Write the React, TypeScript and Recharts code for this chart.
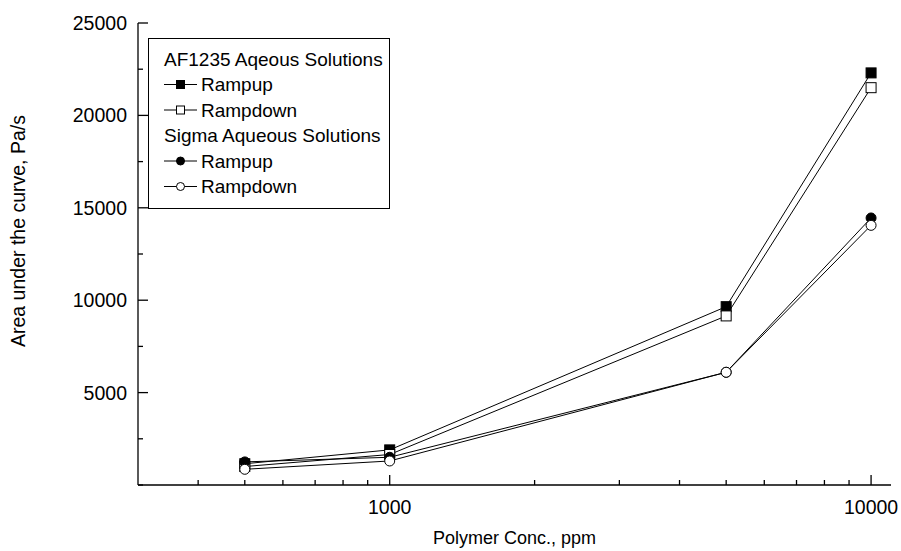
import React from 'react';
import { LineChart, Line, XAxis, YAxis, Legend } from 'recharts';

// Polymer concentration (ppm) and area under the curve (Pa/s) per series
const concentrations = [500, 1000, 5000, 10000];
const af1235Rampup = [1150, 1900, 9650, 22300];
const af1235Rampdown = [1000, 1650, 9150, 21500];
const sigmaRampup = [1250, 1500, 6100, 14450];
const sigmaRampdown = [850, 1300, 6100, 14050];

const xTicks = [400, 500, 600, 700, 800, 900, 1000, 2000, 3000, 4000, 5000, 6000, 7000, 8000, 9000, 10000];
const xLabelTicks = [1000, 10000];
const yTicks = [0, 2500, 5000, 7500, 10000, 12500, 15000, 17500, 20000, 22500, 25000];
const yLabelTicks = [5000, 10000, 15000, 20000, 25000];

const FONT = '"Liberation Sans", Arial, sans-serif';

type MarkerKind = 'filledSquare' | 'openSquare' | 'filledCircle' | 'openCircle';

const data = concentrations.map((conc, i) => ({
  conc,
  afUp: af1235Rampup[i],
  afDown: af1235Rampdown[i],
  sigmaUp: sigmaRampup[i],
  sigmaDown: sigmaRampdown[i],
}));

const Marker = ({ cx, cy, kind, size }: { cx: number; cy: number; kind: MarkerKind; size: number }) => {
  const fill = kind.startsWith('filled') ? '#000' : '#fff';
  if (kind.endsWith('Square')) {
    return (
      <rect x={cx - size / 2} y={cy - size / 2} width={size} height={size} fill={fill} stroke="#000" strokeWidth={1} />
    );
  }
  return <circle cx={cx} cy={cy} r={size / 2} fill={fill} stroke="#000" strokeWidth={1} />;
};

const makeDot = (kind: MarkerKind) => (props: any) => {
  const { cx, cy, index } = props;
  if (cx == null || cy == null) return <g key={`dot-${kind}-${index}`} />;
  return (
    <g key={`dot-${kind}-${index}`}>
      <Marker cx={cx} cy={cy} kind={kind} size={10} />
    </g>
  );
};

// Inward ticks on the log axis, labels only on the decades
const XTick = (props: any) => {
  const { x, y, payload } = props;
  const major = xLabelTicks.includes(payload.value);
  return (
    <g>
      <line x1={x} x2={x} y1={y} y2={y - (major ? 10 : 5)} stroke="#000" strokeWidth={1.3} />
      {major && (
        <text x={x} y={y + 22} textAnchor="middle" dominantBaseline="central" fontSize={19.5} fontFamily={FONT} fill="#000">
          {payload.value}
        </text>
      )}
    </g>
  );
};

const YTick = (props: any) => {
  const { x, y, payload } = props;
  const major = yLabelTicks.includes(payload.value);
  return (
    <g>
      <line x1={x} x2={x + (major ? 10 : 5)} y1={y} y2={y} stroke="#000" strokeWidth={1.3} />
      {major && (
        <text x={x - 11} y={y} textAnchor="end" dominantBaseline="central" fontSize={19.5} fontFamily={FONT} fill="#000">
          {payload.value}
        </text>
      )}
    </g>
  );
};

const YTitle = () => {
  const cx = 18;
  const cy = 231;
  return (
    <text
      x={cx}
      y={cy}
      transform={`rotate(-90, ${cx}, ${cy})`}
      textAnchor="middle"
      dominantBaseline="central"
      fontSize={19.5}
      fontFamily={FONT}
      fill="#000"
    >
      Area under the curve, Pa/s
    </text>
  );
};

const legendRows: { label: string; kind?: MarkerKind }[] = [
  { label: 'AF1235 Aqeous Solutions' },
  { label: 'Rampup', kind: 'filledSquare' },
  { label: 'Rampdown', kind: 'openSquare' },
  { label: 'Sigma Aqueous Solutions' },
  { label: 'Rampup', kind: 'filledCircle' },
  { label: 'Rampdown', kind: 'openCircle' },
];

const LegendBox = () => (
  <svg width={242} height={171} style={{ display: 'block' }}>
    <rect x={0.5} y={0.5} width={241} height={170} fill="#fff" stroke="#000" strokeWidth={1} />
    {legendRows.map((row, i) => {
      const cy = 21 + i * 25.5;
      if (!row.kind) {
        return (
          <text key={i} x={16} y={cy} dominantBaseline="central" fontSize={19} fontFamily={FONT} fill="#000">
            {row.label}
          </text>
        );
      }
      return (
        <g key={i}>
          <line x1={16} x2={49} y1={cy} y2={cy} stroke="#000" strokeWidth={1} />
          <Marker cx={32.5} cy={cy} kind={row.kind} size={8} />
          <text x={53} y={cy} dominantBaseline="central" fontSize={19} fontFamily={FONT} fill="#000">
            {row.label}
          </text>
        </g>
      );
    })}
  </svg>
);

const App: React.FC = () => {
  return (
    <div style={{ position: 'absolute', left: 0, top: 0, width: 901, height: 551, background: '#fff' }}>
      <LineChart width={901} height={551} data={data} margin={{ top: 23, right: 10, left: 0, bottom: 0 }}>
        <XAxis
          dataKey="conc"
          type="number"
          scale="log"
          domain={[300, 11000]}
          allowDataOverflow
          ticks={xTicks}
          interval={0}
          tick={<XTick />}
          tickSize={0}
          tickMargin={0}
          tickLine={false}
          axisLine={{ stroke: '#000', strokeWidth: 1.3 }}
          height={66}
          label={{
            value: 'Polymer Conc., ppm',
            position: 'insideBottom',
            offset: 7,
            fontSize: 18,
            fontFamily: FONT,
            fill: '#000',
          }}
        />
        <XAxis xAxisId="top" orientation="top" dataKey="conc" type="number" scale="log" domain={[300, 11000]} allowDataOverflow tick={false} tickLine={false} axisLine={{ stroke: '#000', strokeWidth: 1.3 }} height={0} />
        <YAxis
          type="number"
          domain={[0, 25000]}
          ticks={yTicks}
          interval={0}
          tick={<YTick />}
          tickSize={0}
          tickMargin={0}
          tickLine={false}
          axisLine={{ stroke: '#000', strokeWidth: 1.3 }}
          width={138}
          label={<YTitle />}
        />
        <YAxis yAxisId="right" orientation="right" type="number" domain={[0, 25000]} tick={false} tickLine={false} axisLine={{ stroke: '#000', strokeWidth: 1.3 }} width={0} />
        <Legend
          layout="vertical"
          align="center"
          verticalAlign="middle"
          content={() => <LegendBox />}
          wrapperStyle={{ left: 148, top: 38, width: 242, height: 171 }}
        />
        <Line dataKey="afUp" stroke="#000" strokeWidth={1} dot={makeDot('filledSquare')} isAnimationActive={false} />
        <Line dataKey="afDown" stroke="#000" strokeWidth={1} dot={makeDot('openSquare')} isAnimationActive={false} />
        <Line dataKey="sigmaUp" stroke="#000" strokeWidth={1} dot={makeDot('filledCircle')} isAnimationActive={false} />
        <Line dataKey="sigmaDown" stroke="#000" strokeWidth={1} dot={makeDot('openCircle')} isAnimationActive={false} />
      </LineChart>
    </div>
  );
};

export default App;
